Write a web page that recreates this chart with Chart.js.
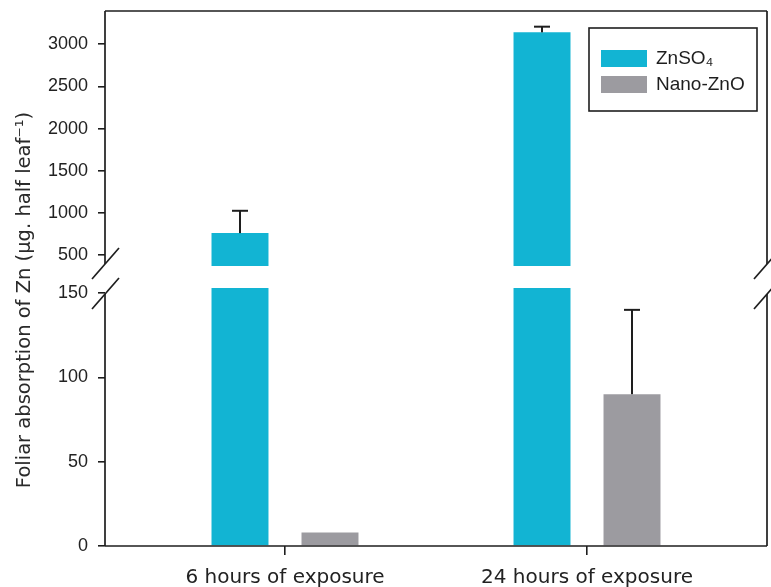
<!DOCTYPE html>
<html><head><meta charset="utf-8">
<script src="https://cdn.jsdelivr.net/npm/chart.js@4.4.1/dist/chart.umd.min.js"></script>
<style>html,body{margin:0;padding:0;background:#fff;overflow:hidden}</style>
</head><body>
<canvas id="c" width="771" height="587"></canvas>
<script>
// ---- data ----
const categories = ['6 hours of exposure', '24 hours of exposure'];
const seriesNames = ['ZnSO\u2084', 'Nano-ZnO'];
const znso4 = [760, 3142];
const znso4Err = [265, 67];
const nanoZnO = [8, 90];
const nanoZnOErr = [0, 50];
const upperTicks = [500, 1000, 1500, 2000, 2500, 3000];
const lowerTicks = [0, 50, 100, 150];
const upperRange = [370, 3395];
const lowerRange = [0, 166];
const lowerBarTop = 153;
const yTitle = 'Foliar absorption of Zn (\u00b5g. half leaf\u207b\u00b9)';

// ---- styles ----
const colors = ['#12b4d3', '#9c9ba0'];
const ink = '#1e1e1e';

function lowerPart(vals) { return vals.map((v, i) => ({x: i, y: Math.min(v, lowerBarTop)})); }
function upperPart(vals) { return vals.map((v, i) => ({x: i, y: v > upperRange[0] ? [upperRange[0], v] : null})); }

const series = [
  {vals: znso4, err: znso4Err, lower: 0, upper: 1},
  {vals: nanoZnO, err: nanoZnOErr, lower: 2, upper: 3}
];

const framePlugin = {
  id: 'frame',
  afterDatasetsDraw(chart) {
    const {ctx, chartArea: a, scales} = chart;
    const up = scales.yUpper, lo = scales.yLower;
    ctx.save();
    ctx.strokeStyle = ink;
    ctx.lineCap = 'butt';
    const line = (x1, y1, x2, y2) => { ctx.beginPath(); ctx.moveTo(x1, y1); ctx.lineTo(x2, y2); ctx.stroke(); };
    const b1 = up.bottom - 2;
    const b2 = lo.getPixelForValue(lowerTicks[lowerTicks.length - 1]) + 1;
    // error bars
    ctx.lineWidth = 2;
    series.forEach(s => {
      s.vals.forEach((v, i) => {
        const e = s.err[i];
        if (!e) return;
        const inUpper = v > upperRange[0];
        const meta = chart.getDatasetMeta(inUpper ? s.upper : s.lower);
        const el = meta.data[i];
        const sc = inUpper ? up : lo;
        const yc = sc.getPixelForValue(v + e);
        line(el.x, el.y, el.x, yc);
        line(el.x - 8, yc, el.x + 8, yc);
      });
    });
    ctx.lineWidth = 1.7;
    // frame lines
    line(a.left, a.top, a.right, a.top);
    line(a.left, a.bottom, a.right, a.bottom);
    [a.left, a.right].forEach(X => {
      line(X, a.top, X, b1);
      line(X, b2, X, a.bottom);
      line(X - 13, b1 + 15, X + 14, b1 - 16);
      line(X - 13, b2 + 15, X + 14, b2 - 16);
    });
    // legend
    const lx = a.right - 178, ly = a.top + 17;
    ctx.lineWidth = 1.6;
    ctx.strokeRect(lx, ly, 168, 83);
    ctx.font = '19px "Liberation Sans", Arial, sans-serif';
    ctx.textBaseline = 'middle';
    ctx.textAlign = 'left';
    seriesNames.forEach((n, i) => {
      const sy = ly + 22 + i * 26;
      ctx.fillStyle = colors[i];
      ctx.fillRect(lx + 12, sy, 46, 17);
      ctx.fillStyle = ink;
      ctx.fillText(n, lx + 67, sy + 8.5);
    });
    // y title
    ctx.save();
    ctx.translate(29.5, 300);
    ctx.rotate(-Math.PI / 2);
    ctx.font = '19.5px "DejaVu Sans", sans-serif';
    ctx.fillStyle = '#2a2a2a';
    ctx.textAlign = 'center';
    ctx.textBaseline = 'alphabetic';
    ctx.fillText(yTitle, 0, 0);
    ctx.restore();
    ctx.restore();
  }
};

const yCommon = {
  type: 'linear', position: 'left', stack: 'y', bounds: 'data',
  afterFit: s => { s.width = 105; s.paddingTop = 0; s.paddingBottom = 0; },
  grid: {drawOnChartArea: false, drawTicks: true, tickLength: 7, color: ink, lineWidth: 1.6, offset: false},
  border: {display: false},
  ticks: {color: '#222', padding: 10, font: {size: 18, family: '"Liberation Sans", Arial, sans-serif'},
    callback: v => String(v)}
};

new Chart(document.getElementById('c'), {
  type: 'bar',
  data: {
    datasets: [
      {label: seriesNames[0], yAxisID: 'yLower', stack: 'a', backgroundColor: colors[0], data: lowerPart(znso4)},
      {label: seriesNames[0], yAxisID: 'yUpper', stack: 'a', backgroundColor: colors[0], data: upperPart(znso4)},
      {label: seriesNames[1], yAxisID: 'yLower', stack: 'b', backgroundColor: colors[1], data: lowerPart(nanoZnO)},
      {label: seriesNames[1], yAxisID: 'yUpper', stack: 'b', backgroundColor: colors[1], data: upperPart(nanoZnO)}
    ]
  },
  options: {
    responsive: false, animation: false, devicePixelRatio: 1,
    categoryPercentage: 0.596, barPercentage: 0.633,
    layout: {padding: {top: 11, right: 4, bottom: 0, left: 0}},
    plugins: {legend: {display: false}, tooltip: {enabled: false}},
    scales: {
      x: {
        type: 'linear', min: -0.596, max: 1.596, bounds: 'data', offset: false,
        afterBuildTicks: s => { s.ticks = categories.map((_, i) => ({value: i})); },
        afterFit: s => { s.height = 41; s.paddingLeft = 0; s.paddingRight = 0; },
        grid: {drawOnChartArea: false, drawTicks: true, tickLength: 9, color: ink, lineWidth: 1.6, offset: false},
        border: {display: false},
        ticks: {color: '#222', padding: 11, maxRotation: 0, autoSkip: false,
          font: {size: 20, family: '"DejaVu Sans", sans-serif'},
          callback: (v, i) => categories[i]}
      },
      yUpper: Object.assign({}, yCommon, {
        stackWeight: 255, weight: 2, min: upperRange[0], max: upperRange[1],
        afterBuildTicks: s => { s.ticks = upperTicks.map(v => ({value: v})); }
      }),
      yLower: Object.assign({}, yCommon, {
        stackWeight: 280, weight: 1, min: lowerRange[0], max: lowerRange[1],
        afterBuildTicks: s => { s.ticks = lowerTicks.map(v => ({value: v})); }
      })
    }
  },
  plugins: [framePlugin]
});
</script>
</body></html>
